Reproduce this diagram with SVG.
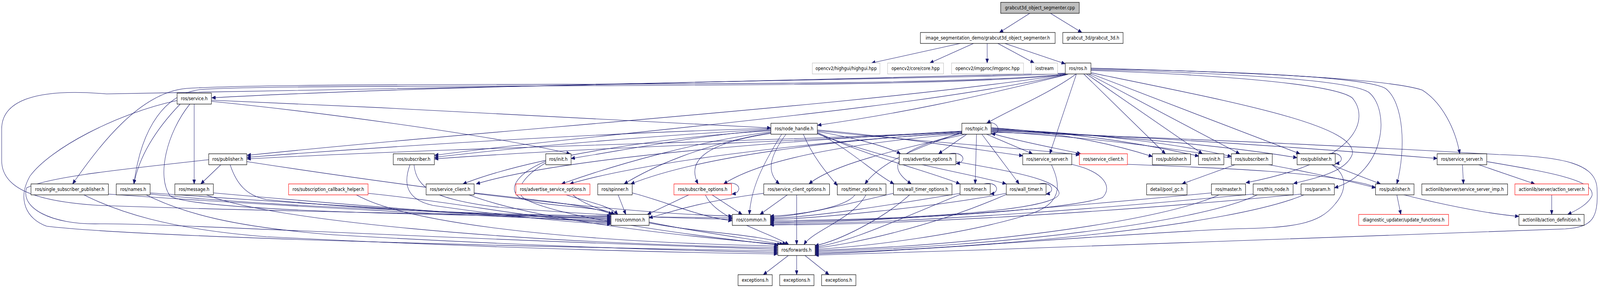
<svg xmlns="http://www.w3.org/2000/svg" width="4804" height="736" viewBox="0 0 4804 736" preserveAspectRatio="none" style="width:100%;height:100%">
<style>
.n rect{fill:#fff;stroke:#000;stroke-width:1.2}
.n.r rect{stroke:#ff0000}
.n.g rect{stroke:#bfbfbf}
.n.root rect{fill:#bfbfbf}
.n text{font-family:"DejaVu Sans","Liberation Sans",sans-serif;font-size:12.6px;text-anchor:middle;fill:#000}
.e path{fill:none;stroke:#191970;stroke-width:1.1;marker-end:url(#a)}
</style>
<defs>
<marker id="a" markerUnits="userSpaceOnUse" markerWidth="13" markerHeight="11" refX="11" refY="4.5" orient="auto"><path d="M0,0 L11,4.5 L0,9 z" fill="#191970" stroke="#191970" stroke-width="1"/></marker>
</defs>
<rect width="4804" height="736" fill="#fff"/>
<g class="e" id="connectors">
<path d="M3092,34 L3001,83"/>
<path d="M3154,34 L3248,83"/>
<path d="M2883,111 L2617,161"/>
<path d="M2923,111 L2792,161"/>
<path d="M2964,111 L2964,161"/>
<path d="M2996,111 L3105,161"/>
<path d="M3017,111 L3198,163"/>
<path d="M3199,188 C2900,202 1500,210 636,250"/>
<path d="M3199,189 C2800,230 950,205 560,226 C420,236 300,370 218,470"/>
<path d="M3200,190 C2800,234 900,210 600,229 C500,240 425,320 402,470"/>
<path d="M3202,190 C2600,268 1500,330 742,397"/>
<path d="M3204,190 C2700,285 1800,340 1305,397"/>
<path d="M3207,190 C2900,255 2700,290 2455,320"/>
<path d="M3231,189 C3150,240 3020,285 2963,315"/>
<path d="M3232,189 L3152,393"/>
<path d="M3254,189 L3499,393"/>
<path d="M3262,189 L3610,393"/>
<path d="M3268,189 L3722,393"/>
<path d="M3274,188 L3903,393"/>
<path d="M3276,174 C3700,184 4150,198 4270,230 C4330,262 4370,330 4383,393"/>
<path d="M3276,176 C3700,182 4100,196 4160,226 C4215,262 4222,380 4194,470"/>
<path d="M3276,178 C3650,186 4050,202 4110,236 C4175,282 4160,440 4007,480"/>
<path d="M3276,186 C3700,260 4080,320 4060,395 C4040,440 3950,455 3884,469"/>
<path d="M3276,180 C3620,190 4000,212 4060,250 C4110,300 4090,410 3741,467"/>
<path d="M3199,187 C2900,200 700,236 320,240 C100,224 5,260 5,330 L5,410 C5,480 100,515 300,525 C800,540 1400,548 1834,552"/>
<path d="M635,256 C1200,275 1800,305 2314,327"/>
<path d="M583,266 L583,470"/>
<path d="M541,266 C480,320 420,390 402,470"/>
<path d="M570,266 C500,340 470,450 510,500 C560,535 1200,550 1834,555"/>
<path d="M635,259 C1000,290 1500,350 1712,393"/>
<path d="M531,257 C350,290 150,380 90,450 C50,510 80,560 140,578 C400,605 1500,630 2335,641"/>
<path d="M663,421 L603,470"/>
<path d="M691,421 C710,470 740,500 800,510 C1100,535 1500,552 1834,558"/>
<path d="M741,413 C1100,460 1800,545 2198,552"/>
<path d="M627,408 C400,430 150,450 80,480 C60,530 150,575 300,572 C500,570 1300,610 2335,637"/>
<path d="M451,493 C900,520 1500,552 1834,561"/>
<path d="M325,496 C800,525 1500,556 1834,564"/>
<path d="M641,493 C1000,520 1500,556 1834,567"/>
<path d="M1105,494 C1400,520 1600,560 1834,570"/>
<path d="M1231,421 C1210,470 1220,510 1300,525 C1500,550 1700,568 1834,573"/>
<path d="M1424,493 C1600,510 1780,525 1838,548"/>
<path d="M1639,412 C1560,440 1520,480 1560,505 C1620,530 1800,525 1845,548"/>
<path d="M1700,498 C1760,515 1830,525 1855,548"/>
<path d="M1856,498 L1879,548"/>
<path d="M2068,498 L1944,548"/>
<path d="M2293,494 C2100,515 2000,545 1949,557"/>
<path d="M451,496 C900,535 1700,555 2198,556"/>
<path d="M1243,421 C1250,480 1300,510 1500,530 C1800,550 2000,558 2198,560"/>
<path d="M1898,493 C2000,515 2100,555 2198,564"/>
<path d="M2138,498 L2228,548"/>
<path d="M2347,343 C2290,420 2255,480 2250,548"/>
<path d="M2364,498 L2282,548"/>
<path d="M2567,498 C2540,530 2400,550 2313,552"/>
<path d="M2683,494 C2500,530 2400,552 2313,555"/>
<path d="M2883,494 C2700,520 2450,555 2313,558"/>
<path d="M3021,494 C2800,530 2450,558 2313,561"/>
<path d="M2870,413 C3050,440 3180,460 3180,495 C3170,540 2700,562 2313,564"/>
<path d="M3218,420 C3320,440 3340,480 3310,505 C3200,540 2600,566 2313,567"/>
<path d="M3637,493 C3300,520 2700,568 2313,570"/>
<path d="M3763,496 C3400,525 2800,570 2313,573"/>
<path d="M3906,496 C3500,530 2800,574 2313,575"/>
<path d="M439,498 C550,545 700,580 1000,600 C1500,625 2000,640 2335,645"/>
<path d="M252,498 C350,540 500,585 800,605 C1500,635 2000,645 2335,649"/>
<path d="M620,498 C800,560 1500,620 2335,633"/>
<path d="M1070,498 C1200,560 1600,615 2335,629"/>
<path d="M1639,416 C1590,440 1540,480 1570,505 C1640,545 1950,590 2336,626"/>
<path d="M1408,498 C1600,560 2000,600 2345,625"/>
<path d="M1720,498 C1800,560 2100,590 2352,625"/>
<path d="M1949,570 C2100,595 2300,600 2360,625"/>
<path d="M2118,498 C2150,560 2300,590 2368,625"/>
<path d="M2392,498 L2392,625"/>
<path d="M2600,498 C2560,560 2440,590 2414,625"/>
<path d="M2731,498 C2650,560 2520,615 2447,628"/>
<path d="M2883,497 C2700,560 2550,620 2447,631"/>
<path d="M3021,497 C2800,580 2550,625 2447,634"/>
<path d="M3157,421 C3190,480 3180,520 3100,545 C2900,600 2600,630 2447,637"/>
<path d="M3660,498 C3500,560 3000,625 2447,640"/>
<path d="M3775,498 C3600,570 3000,630 2447,643"/>
<path d="M3915,498 C3700,575 3000,635 2447,646"/>
<path d="M3999,421 C4050,450 4040,490 4010,520 C3960,575 3880,582 3700,585 C3300,600 2800,640 2447,649"/>
<path d="M2976,338 C3500,350 4200,380 4500,395 C4700,400 4790,420 4795,480 C4800,560 4780,580 4700,585 C4300,600 3300,630 2447,652"/>
<path d="M2367,653 L2292,702"/>
<path d="M2392,653 L2392,702"/>
<path d="M2417,653 L2489,702"/>
<path d="M2315,328 C1800,340 1200,372 742,402"/>
<path d="M2315,330 C2000,345 1600,372 1305,402"/>
<path d="M2315,332 C2100,345 1900,380 1715,405"/>
<path d="M2315,334 C2000,350 1600,400 1390,470"/>
<path d="M2315,337 C2100,360 1850,420 1686,470"/>
<path d="M2315,339 C2100,370 1950,430 1874,470"/>
<path d="M2315,341 C2120,365 2060,410 2096,470"/>
<path d="M2360,343 C2310,400 2300,440 2340,470"/>
<path d="M2412,343 C2440,400 2480,440 2514,474"/>
<path d="M2454,340 C2550,380 2620,440 2684,470"/>
<path d="M2454,336 C2550,350 2650,370 2704,393"/>
<path d="M2454,338 C2600,400 2800,440 2882,470"/>
<path d="M2454,342 C2700,420 2900,440 3021,470"/>
<path d="M2454,332 C2700,350 2950,385 3071,398"/>
<path d="M2454,334 C2800,365 3100,380 3241,396"/>
<path d="M2903,343 L2818,393"/>
<path d="M2932,343 L2928,470"/>
<path d="M2948,343 L3060,470"/>
<path d="M2962,343 L3100,393"/>
<path d="M2975,340 C3050,360 3180,380 3245,393"/>
<path d="M2888,338 C2750,380 2650,410 2597,470"/>
<path d="M2888,341 C2700,380 2650,420 2736,470"/>
<path d="M2888,336 C2400,360 1500,372 742,406"/>
<path d="M2888,337 C2400,362 1800,375 1305,406"/>
<path d="M2888,339 C2500,358 2100,400 1894,470"/>
<path d="M2888,340 C2400,362 1900,420 1711,470"/>
<path d="M2888,342 C2600,362 2300,400 2173,470"/>
<path d="M2888,335 C2400,358 1700,400 1430,470"/>
<path d="M2900,343 C2700,380 2500,420 2429,470"/>
<path d="M2976,326 C3200,340 3350,370 3460,400"/>
<path d="M2976,328 C3250,340 3450,370 3599,399"/>
<path d="M2976,330 C3300,340 3550,370 3697,400"/>
<path d="M2976,332 C3350,345 3700,375 3894,403"/>
<path d="M2976,334 C3500,350 4100,390 4315,405"/>
<path d="M2976,336 C3500,360 3950,440 4130,480"/>
<path d="M3708,421 L3549,470"/>
<path d="M3999,421 C4050,440 4100,455 4145,470"/>
<path d="M4194,498 L4206,548"/>
<path d="M4391,421 L4394,470"/>
<path d="M4440,421 L4608,470"/>
<path d="M4464,413 C4650,440 4790,460 4780,500 C4770,520 4740,535 4707,548"/>
<path d="M4659,498 L4659,548"/>
<path d="M3385,420 C3700,430 3950,440 4100,470 C4250,510 4450,545 4560,553"/>
<path d="M2178,470 C2222,460 2232,492 2198,496"/>
<path d="M2960,315 C3000,305 3010,345 2977,342"/>
<path d="M2850,393 C2895,385 2905,415 2871,418"/>
<path d="M2955,470 C2995,462 3005,492 2974,496"/>
<path d="M3120,470 C3160,462 3170,492 3141,496"/>
<path d="M3988,393 C4030,385 4040,415 4010,418"/>
</g>
<g id="n0" class="n root"><rect x="3004.5" y="6" width="236" height="28"/><text x="3122.5" y="24.5">grabcut3d_object_segmenter.cpp</text></g>
<g id="n1" class="n"><rect x="2763.5" y="83" width="404.5" height="28"/><text x="2965.7" y="101.5">image_segmentation_demo/grabcut3d_object_segmenter.h</text></g>
<g id="n2" class="n"><rect x="3191" y="83" width="181" height="28"/><text x="3281.5" y="101.5">grabcut_3d/grabcut_3d.h</text></g>
<g id="n3" class="n g"><rect x="2439" y="161" width="203" height="28"/><text x="2540.5" y="179.5">opencv2/highgui/highgui.hpp</text></g>
<g id="n4" class="n g"><rect x="2665" y="161" width="168" height="28"/><text x="2749" y="179.5">opencv2/core/core.hpp</text></g>
<g id="n5" class="n g"><rect x="2857" y="161" width="216" height="28"/><text x="2965" y="179.5">opencv2/imgproc/imgproc.hpp</text></g>
<g id="n6" class="n g"><rect x="3097" y="161" width="78.5" height="28"/><text x="3136.2" y="179.5">iostream</text></g>
<g id="n7" class="n"><rect x="3198.5" y="161" width="77" height="28"/><text x="3237" y="179.5">ros/ros.h</text></g>
<g id="n8" class="n"><rect x="531.7" y="238" width="103" height="28"/><text x="583.2" y="256.5">ros/service.h</text></g>
<g id="n9" class="n"><rect x="2314.6" y="315" width="139.4" height="28"/><text x="2384.3" y="333.5">ros/node_handle.h</text></g>
<g id="n10" class="n"><rect x="2888" y="315" width="87.7" height="28"/><text x="2931.9" y="333.5">ros/topic.h</text></g>
<g id="n11" class="n"><rect x="626.7" y="393" width="114.3" height="28"/><text x="683.8" y="411.5">ros/publisher.h</text></g>
<g id="n12" class="n"><rect x="1180.8" y="393" width="123.4" height="28"/><text x="1242.5" y="411.5">ros/subscriber.h</text></g>
<g id="n13" class="n"><rect x="1638.6" y="393" width="76.1" height="28"/><text x="1676.6" y="411.5">ros/init.h</text></g>
<g id="n14" class="n"><rect x="2700" y="393" width="170" height="28"/><text x="2785" y="411.5">ros/advertise_options.h</text></g>
<g id="n15" class="n"><rect x="3070.7" y="393" width="147.3" height="28"/><text x="3144.3" y="411.5">ros/service_server.h</text></g>
<g id="n16" class="n r"><rect x="3240.8" y="393" width="144.2" height="28"/><text x="3312.9" y="411.5">ros/service_client.h</text></g>
<g id="n17" class="n"><rect x="3460" y="393" width="114.6" height="28"/><text x="3517.3" y="411.5">ros/publisher.h</text></g>
<g id="n18" class="n"><rect x="3598.5" y="393" width="76.1" height="28"/><text x="3636.5" y="411.5">ros/init.h</text></g>
<g id="n19" class="n"><rect x="3697" y="393" width="123" height="28"/><text x="3758.5" y="411.5">ros/subscriber.h</text></g>
<g id="n20" class="n"><rect x="3894.5" y="393" width="114.5" height="28"/><text x="3951.7" y="411.5">ros/publisher.h</text></g>
<g id="n21" class="n"><rect x="4315" y="393" width="149" height="28"/><text x="4389.5" y="411.5">ros/service_server.h</text></g>
<g id="n22" class="n"><rect x="93" y="470" width="232.4" height="28"/><text x="209.2" y="488.5">ros/single_subscriber_publisher.h</text></g>
<g id="n23" class="n"><rect x="349" y="470" width="101.7" height="28"/><text x="399.8" y="488.5">ros/names.h</text></g>
<g id="n24" class="n"><rect x="525" y="470" width="115.6" height="28"/><text x="582.8" y="488.5">ros/message.h</text></g>
<g id="n25" class="n r"><rect x="866.5" y="470" width="238.5" height="28"/><text x="985.7" y="488.5">ros/subscription_callback_helper.h</text></g>
<g id="n26" class="n"><rect x="1279.4" y="470" width="144.2" height="28"/><text x="1351.5" y="488.5">ros/service_client.h</text></g>
<g id="n27" class="n r"><rect x="1549" y="470" width="222.3" height="28"/><text x="1660.1" y="488.5">ros/advertise_service_options.h</text></g>
<g id="n28" class="n"><rect x="1794.7" y="470" width="103.5" height="28"/><text x="1846.4" y="488.5">ros/spinner.h</text></g>
<g id="n29" class="n r"><rect x="2023.5" y="470" width="172.7" height="28"/><text x="2109.8" y="488.5">ros/subscribe_options.h</text></g>
<g id="n30" class="n"><rect x="2293.2" y="470" width="197.5" height="28"/><text x="2391.9" y="488.5">ros/service_client_options.h</text></g>
<g id="n31" class="n"><rect x="2514" y="470" width="146.2" height="28"/><text x="2587.1" y="488.5">ros/timer_options.h</text></g>
<g id="n32" class="n"><rect x="2682.6" y="470" width="175.7" height="28"/><text x="2770.4" y="488.5">ros/wall_timer_options.h</text></g>
<g id="n33" class="n"><rect x="2882.6" y="470" width="90.6" height="28"/><text x="2927.9" y="488.5">ros/timer.h</text></g>
<g id="n34" class="n"><rect x="3021.4" y="470" width="119.4" height="28"/><text x="3081.1" y="488.5">ros/wall_timer.h</text></g>
<g id="n35" class="n"><rect x="3442.7" y="470" width="121.4" height="28"/><text x="3503.4" y="488.5">detail/pool_gc.h</text></g>
<g id="n36" class="n"><rect x="3637.3" y="470" width="102.5" height="28"/><text x="3688.5" y="488.5">ros/master.h</text></g>
<g id="n37" class="n"><rect x="3762.6" y="470" width="119.9" height="28"/><text x="3822.5" y="488.5">ros/this_node.h</text></g>
<g id="n38" class="n"><rect x="3906.4" y="470" width="100" height="28"/><text x="3956.4" y="488.5">ros/param.h</text></g>
<g id="n39" class="n"><rect x="4130" y="470" width="115.6" height="28"/><text x="4187.8" y="488.5">ros/publisher.h</text></g>
<g id="n40" class="n"><rect x="4269" y="470" width="257.5" height="28"/><text x="4397.7" y="488.5">actionlib/server/service_server_imp.h</text></g>
<g id="n41" class="n r"><rect x="4548.5" y="470" width="220.9" height="28"/><text x="4658.9" y="488.5">actionlib/server/action_server.h</text></g>
<g id="n42" class="n"><rect x="1834.5" y="548" width="114.4" height="28"/><text x="1891.7" y="566.5">ros/common.h</text></g>
<g id="n43" class="n"><rect x="2198.7" y="548" width="114.4" height="28"/><text x="2255.9" y="566.5">ros/common.h</text></g>
<g id="n44" class="n r"><rect x="4079.4" y="548" width="270" height="28"/><text x="4214.4" y="566.5">diagnostic_updater/update_functions.h</text></g>
<g id="n45" class="n"><rect x="4560.6" y="548" width="195.7" height="28"/><text x="4658.4" y="566.5">actionlib/action_definition.h</text></g>
<g id="n46" class="n"><rect x="2335.5" y="625" width="112" height="28"/><text x="2391.5" y="643.5">ros/forwards.h</text></g>
<g id="n47" class="n"><rect x="2216" y="702" width="102.6" height="28"/><text x="2267.3" y="720.5">exceptions.h</text></g>
<g id="n48" class="n"><rect x="2341" y="702" width="103" height="28"/><text x="2392.5" y="720.5">exceptions.h</text></g>
<g id="n49" class="n"><rect x="2466.8" y="702" width="103" height="28"/><text x="2518.3" y="720.5">exceptions.h</text></g>
</svg>
